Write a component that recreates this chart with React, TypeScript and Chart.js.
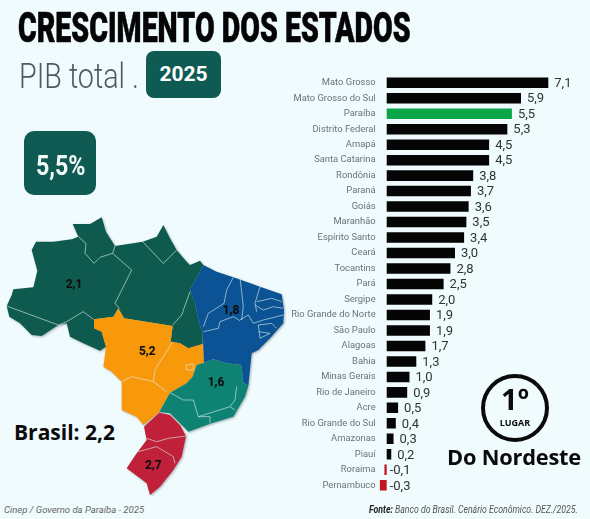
import React, { useEffect, useRef } from 'react';
import { Chart, registerables } from 'chart.js';

Chart.register(...registerables);

const estados = ['Mato Grosso', 'Mato Grosso do Sul', 'Paraíba', 'Distrito Federal', 'Amapá', 'Santa Catarina', 'Rondônia', 'Paraná', 'Goiás', 'Maranhão', 'Espírito Santo', 'Ceará', 'Tocantins', 'Pará', 'Sergipe', 'Rio Grande do Norte', 'São Paulo', 'Alagoas', 'Bahia', 'Minas Gerais', 'Rio de Janeiro', 'Acre', 'Rio Grande do Sul', 'Amazonas', 'Piauí', 'Roraima', 'Pernambuco'];
const crescimento = [7.1, 5.9, 5.5, 5.3, 4.5, 4.5, 3.8, 3.7, 3.6, 3.5, 3.4, 3.0, 2.8, 2.5, 2.0, 1.9, 1.9, 1.7, 1.3, 1.0, 0.9, 0.5, 0.4, 0.3, 0.2, -0.1, -0.3];

// mapa (ilustracao, nao faz parte do grafico) - coordenadas no viewBox 900x957
const norte = 'M20,318 35,285 40,268 100,262 112,212 95,150 108,125 160,125 215,118 235,110 218,72 270,72 305,52 318,95 345,138 428,125 470,110 490,75 510,115 530,150 560,185 570,195 600,182 610,195 570,270 585,310 595,360 608,400 608,432 565,445 540,430 512,425 518,378 372,355 355,325 340,350 282,358 282,385 305,395 318,440 300,452 250,430 210,410 200,370 175,375 125,408 95,405 60,370 28,350Z';
const centroOeste = 'M282,358 340,350 355,325 372,355 518,378 512,425 540,430 565,445 608,432 612,488 590,495 578,530 560,550 510,578 480,630 478,636 430,675 410,650 365,630 365,545 335,515 310,500 318,440 305,395 282,385Z';
const nordeste = 'M610,195 650,215 700,232 780,260 845,283 852,330 850,370 810,415 775,450 755,460 745,558 728,545 725,495 680,490 640,478 612,488 608,400 595,360 585,310 570,270Z';
const sudeste = 'M612,488 640,478 680,490 725,495 728,545 745,558 735,590 700,650 635,670 565,695 540,670 510,640 478,636 510,578 560,550 578,530 590,495Z';
const sul = 'M478,638 510,645 540,675 558,708 545,770 520,810 480,860 450,885 440,850 380,805 410,760 440,720 432,680Z';
const divisas = [
  'M20,318 175,375 200,365 250,335 280,358',
  'M235,110 258,130 255,160 282,190 300,172 338,160 345,138',
  'M338,160 395,210 345,310 358,325',
  'M428,125 490,190 530,150',
  'M570,275 545,345 518,375',
  'M365,545 395,530 440,540 460,545',
  'M518,425 465,510 460,545 500,575',
  'M558,495 580,492 580,510 560,510Z',
  'M700,232 680,270 672,310 625,340 610,380',
  'M720,232 730,320 725,360',
  'M780,260 765,310 770,335',
  'M770,305 815,295 845,305',
  'M765,315 790,330 820,320 850,325',
  'M720,360 745,345 760,370 790,360 850,345',
  'M775,375 815,370 830,385',
  'M775,395 810,400',
  'M610,395 655,385 660,365 700,350 720,362',
  'M775,375 780,415 810,400',
  'M510,578 550,600 580,600 595,650 630,650 630,670',
  'M595,650 690,620 705,630',
  'M710,560 705,600 690,620',
  'M440,715 470,725 505,715 558,708',
  'M415,755 470,740 520,770 525,790',
];

const valoresPlugin = {
  id: 'valores',
  afterDatasetsDraw(chart: Chart) {
    const { ctx, scales } = chart;
    const zero = scales.x.getPixelForValue(0);
    ctx.save();
    ctx.font = '13px Roboto';
    ctx.fillStyle = '#2f3336';
    ctx.textBaseline = 'middle';
    chart.getDatasetMeta(0).data.forEach((bar: any, i: number) => {
      const v = crescimento[i];
      const x = v < 0 ? zero + 3 : bar.x + 6;
      ctx.fillText(v.toFixed(1).replace('.', ','), x, bar.y + 1);
    });
    ctx.restore();
  },
};

const MapLabel = ({ x, y, t }: { x: number; y: number; t: string }) => (
  <div style={{ position: 'absolute', left: x - 20, top: y - 8, width: 40, height: 16, lineHeight: '16px', textAlign: 'center', font: 'bold 12px Roboto', color: '#0c0c0c' }}>{t}</div>
);

// sem fonte condensada instalada: aperta o texto na horizontal
const narrow = (k: number): React.CSSProperties => ({ transform: `scaleX(${k})`, transformOrigin: 'left center', whiteSpace: 'nowrap' });

const App = () => {
  const chartRef = useRef<HTMLCanvasElement | null>(null);

  useEffect(() => {
    if (!chartRef.current) return;
    const chart = new Chart(chartRef.current, {
      type: 'bar',
      data: {
        labels: estados,
        datasets: [{
          data: crescimento,
          backgroundColor: crescimento.map((v, i) => (estados[i] === 'Paraíba' ? '#0ba64a' : v < 0 ? '#c2161e' : '#050505')),
          barPercentage: 0.68,
          categoryPercentage: 1,
        }],
      },
      options: {
        indexAxis: 'y',
        animation: false,
        responsive: false,
        layout: { padding: 0 },
        plugins: { legend: { display: false }, tooltip: { enabled: false } },
        scales: {
          x: { display: false, min: -0.4, max: 8.8 },
          y: {
            grid: { display: false, drawTicks: false },
            border: { display: false },
            afterFit: (s: any) => { s.width = 97.6; s.paddingTop = 0; s.paddingBottom = 0; },
            ticks: { autoSkip: false, padding: 2, color: '#68737b', font: { family: 'Roboto', size: 9.4 } },
          },
        },
      },
      plugins: [valoresPlugin],
    });
    return () => chart.destroy();
  }, []);

  return (
    <div style={{ position: 'fixed', left: 0, top: 0, width: 590, height: 519, overflow: 'hidden', background: '#effbfd', fontFamily: 'Roboto' }}>
      <div style={{ position: 'absolute', left: 18, top: 4, font: '900 42px Roboto', lineHeight: '48px', color: '#050505', WebkitTextStroke: '0.6px #050505', ...narrow(0.68) }}>CRESCIMENTO DOS ESTADOS</div>
      <div style={{ position: 'absolute', left: 19, top: 56, font: '300 35px Roboto', lineHeight: '42px', color: '#4b5a66', ...narrow(0.82) }}>PIB total .</div>
      <div style={{ position: 'absolute', left: 146, top: 51, width: 75, height: 47, borderRadius: 8, background: '#0f5a52', color: '#fff', font: 'bold 21px Roboto', lineHeight: '47px', textAlign: 'center' }}>2025</div>
      <div style={{ position: 'absolute', left: 24, top: 131, width: 72, height: 64, borderRadius: 10, background: '#0f5a52' }} />
      <div style={{ position: 'absolute', left: 36, top: 148, font: 'bold 27px Roboto', lineHeight: '36px', color: '#f2fbf8', ...narrow(0.86) }}>5,5%</div>

      <svg viewBox="0 0 900 957" style={{ position: 'absolute', left: 0, top: 200, width: 300, height: 319, filter: 'drop-shadow(1px 1px 1px rgba(0,0,0,0.3))' }}>
        <path d={norte} fill="#0f5a4f" />
        <path d={centroOeste} fill="#f8990b" />
        <path d={nordeste} fill="#0b5394" />
        <path d={sudeste} fill="#0e8373" />
        <path d={sul} fill="#c0203a" />
        {divisas.map((d) => <path key={d} d={d} fill="none" stroke="#d8efe6" strokeOpacity={0.85} strokeWidth={2.2} />)}
      </svg>
      <MapLabel x={74} y={285} t="2,1" />
      <MapLabel x={147} y={352} t="5,2" />
      <MapLabel x={231} y={311} t="1,8" />
      <MapLabel x={216} y={383} t="1,6" />
      <MapLabel x={153} y={466} t="2,7" />

      <div style={{ position: 'absolute', left: 14, top: 417, font: 'bold 21px "Open Sans"', lineHeight: '30px', color: '#0a0a0a', whiteSpace: 'nowrap' }}>Brasil: 2,2</div>
      <div style={{ position: 'absolute', left: 4, top: 503, font: 'italic 9.5px Roboto', lineHeight: '14px', color: '#666', whiteSpace: 'nowrap' }}>Cinep / Governo da Paraíba - 2025</div>
      <div style={{ position: 'absolute', left: 369, top: 503, font: 'italic 10px Roboto', lineHeight: '14px', color: '#555', ...narrow(0.87) }}><b style={{ color: '#222' }}>Fonte:</b> Banco do Brasil. Cenário Econômico. DEZ./2025.</div>

      <canvas ref={chartRef} width={307} height={418} style={{ position: 'absolute', left: 280, top: 75, display: 'block' }} />

      <div style={{ position: 'absolute', left: 481, top: 374, width: 60, height: 60, border: '4px solid #0a0a0a', borderRadius: '50%' }} />
      <div style={{ position: 'absolute', left: 481, top: 381, width: 68, textAlign: 'center', font: 'bold 29px "Open Sans"', lineHeight: '36px', color: '#0a0a0a' }}>1º</div>
      <div style={{ position: 'absolute', left: 481, top: 417, width: 68, textAlign: 'center', font: 'bold 9px "Open Sans"', lineHeight: '12px', color: '#0a0a0a' }}>LUGAR</div>
      <div style={{ position: 'absolute', left: 447, top: 440, font: 'bold 21.8px "Open Sans"', lineHeight: '34px', color: '#0a0a0a', letterSpacing: -0.2, whiteSpace: 'nowrap' }}>Do Nordeste</div>
    </div>
  );
};

export default App;
